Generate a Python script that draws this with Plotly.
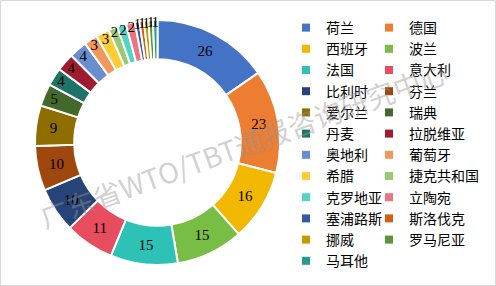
import plotly.graph_objects as go

countries = ["荷兰", "德国", "西班牙", "波兰", "法国", "意大利", "比利时", "芬兰",
             "爱尔兰", "瑞典", "丹麦", "拉脱维亚", "奥地利", "葡萄牙", "希腊",
             "捷克共和国", "克罗地亚", "立陶宛", "塞浦路斯", "斯洛伐克", "挪威",
             "罗马尼亚", "马耳他"]
counts = [26, 23, 16, 15, 15, 11, 10, 10, 9, 5, 4, 4, 4, 3, 3, 2, 2, 2, 1, 1, 1, 1, 1]
colors = ["#4472C4", "#ED7D31", "#F2B800", "#78BE45", "#2EC1B5", "#E84C5F",
          "#264478", "#9E480E", "#8F6E00", "#43682B", "#1D7368", "#A11B2F",
          "#698ED0", "#F1975A", "#FFCD33", "#96CB6F", "#50D4C8", "#EE7484",
          "#335AA1", "#D26012", "#C59A00", "#5D9438", "#269C90"]
watermark = "广东省WTO/TBT通报咨询研究中心"

W, H = 496, 286
L, T, PW, PH = 35, 0, 245, 286

def px(x):
    return (x - L) / PW

def py(y):
    return 1 - (y - T) / PH

fig = go.Figure()
fig.add_trace(go.Pie(
    labels=countries, values=counts, sort=False, direction="clockwise",
    hole=0.68, marker=dict(colors=colors, line=dict(color="white", width=2)),
    textinfo="value", textposition="inside", insidetextorientation="horizontal",
    textfont=dict(family="Liberation Serif", size=15, color="black"),
    domain=dict(x=[0, 1], y=[py(265), py(20)]),
    hoverinfo="label+value", showlegend=False
))

# legend entries (two columns, row-major like the original)
for i, (name, c) in enumerate(zip(countries, colors)):
    fig.add_trace(go.Scatter(
        x=[None], y=[None], mode="markers", name=name,
        marker=dict(symbol="square", size=8, color=c),
        legend="legend" if i % 2 == 0 else "legend2", showlegend=True
    ))

legend_font = dict(family="Noto Sans CJK SC", size=14, color="black")
fig.update_layout(
    width=W, height=H,
    margin=dict(l=L, r=W - L - PW, t=T, b=H - T - PH, autoexpand=False),
    paper_bgcolor="white", plot_bgcolor="white",
    uniformtext=dict(minsize=15, mode="show"),
    xaxis=dict(visible=False), yaxis=dict(visible=False),
    legend=dict(orientation="v", x=px(286), xanchor="left", y=py(12), yanchor="top",
                font=legend_font, bgcolor="rgba(0,0,0,0)", traceorder="normal"),
    legend2=dict(orientation="v", x=px(369), xanchor="left", y=py(12), yanchor="top",
                 font=legend_font, bgcolor="rgba(0,0,0,0)", traceorder="normal"),
)

fig.add_annotation(
    text=watermark, x=px(243), y=py(144), xref="paper", yref="paper",
    xanchor="center", yanchor="middle", showarrow=False, textangle=-20,
    font=dict(family="Noto Sans CJK SC", size=28, color="rgba(150,150,150,0.45)")
)

fig.add_shape(type="rect", xref="paper", yref="paper",
              x0=px(0.5), x1=px(W - 0.5), y0=py(H - 0.5), y1=py(0.5),
              line=dict(color="#D9D9D9", width=1), fillcolor="rgba(0,0,0,0)")

fig.write_html("out.html")
